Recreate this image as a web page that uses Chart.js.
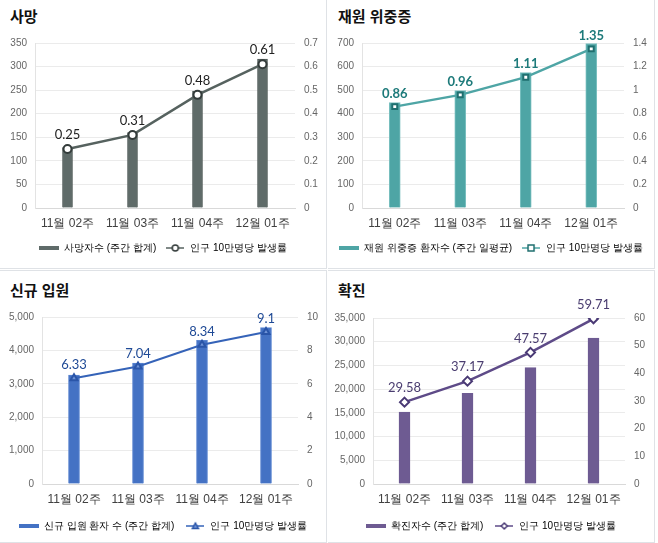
<!DOCTYPE html>
<html lang="ko">
<head>
<meta charset="UTF-8">
<title>코로나19 주간 현황</title>
<script src="https://cdn.jsdelivr.net/npm/chart.js"></script>
<style>
  body { margin: 0; background: #fff; width: 658px; height: 543px; position: relative; overflow: hidden;
         font-family: Lato, 'Noto Sans CJK KR', sans-serif; }
  .panel { position: absolute; background: #fff; border-right: 1px solid #dfe2e6; border-bottom: 1px solid #dfe2e6; box-sizing: border-box; }
  .panel h2 { position: absolute; left: 10px; margin: 0; font: bold 15px 'Noto Sans CJK KR', sans-serif; color: #111; }
  .panel canvas { position: absolute; left: 0; top: 0; }
</style>
</head>
<body>
<div class="panel" style="left:0;top:0;width:327px;height:269px"><h2 style="top:5px">사망</h2><canvas id="c1"></canvas></div>
<div class="panel" style="left:328px;top:0;width:327px;height:269px"><h2 style="top:5px">재원 위중증</h2><canvas id="c2"></canvas></div>
<div class="panel" style="left:0;top:270px;width:327px;height:273px;border-top:1px solid #dfe2e6"><h2 style="top:8px">신규 입원</h2><canvas id="c3"></canvas></div>
<div class="panel" style="left:328px;top:270px;width:327px;height:273px;border-top:1px solid #dfe2e6"><h2 style="top:8px">확진</h2><canvas id="c4"></canvas></div>

<script>
  // 데이터
  const weeks = ['11월 02주', '11월 03주', '11월 04주', '12월 01주'];

  const deathCounts = [128, 160, 248, 316];
  const deathRates = [0.25, 0.31, 0.48, 0.61];

  const severeCounts = [447, 498, 574, 698];
  const severeRates = [0.86, 0.96, 1.11, 1.35];

  const admitCounts = [3260, 3620, 4300, 4680];
  const admitRates = [6.33, 7.04, 8.34, 9.1];

  const caseCounts = [15180, 19120, 24530, 30780];
  const caseRates = [29.58, 37.17, 47.57, 59.71];

  // 범례 아이콘
  function barIcon(color) {
    const c = document.createElement('canvas');
    c.width = 20; c.height = 8;
    const g = c.getContext('2d');
    g.fillStyle = color;
    g.fillRect(0, 2, 20, 4);
    return c;
  }

  function marker(g, style, x, y, r, fill, stroke, lw) {
    g.beginPath();
    if (style === 'circle') g.arc(x, y, r, 0, Math.PI * 2);
    else if (style === 'rect') g.rect(x - r, y - r, r * 2, r * 2);
    else if (style === 'triangle') { g.moveTo(x, y - r); g.lineTo(x + r, y + r * 0.8); g.lineTo(x - r, y + r * 0.8); g.closePath(); }
    else { g.moveTo(x, y - r); g.lineTo(x + r, y); g.lineTo(x, y + r); g.lineTo(x - r, y); g.closePath(); }
    g.fillStyle = fill; g.fill();
    g.lineWidth = lw; g.strokeStyle = stroke; g.stroke();
  }

  function lineIcon(color, style, fill, stroke) {
    const c = document.createElement('canvas');
    c.width = 18; c.height = 12;
    const g = c.getContext('2d');
    g.strokeStyle = color; g.lineWidth = 1.5;
    g.beginPath(); g.moveTo(0, 6); g.lineTo(18, 6); g.stroke();
    marker(g, style, 9, 6, 3, fill, stroke, 1.5);
    return c;
  }

  const valueLabels = {
    id: 'valueLabels',
    afterDatasetsDraw(chart, args, opts) {
      const ctx = chart.ctx;
      const meta = chart.getDatasetMeta(1);
      ctx.save();
      ctx.font = opts.font;
      ctx.fillStyle = opts.color;
      ctx.textAlign = 'center';
      ctx.textBaseline = 'middle';
      meta.data.forEach((pt, i) => {
        ctx.fillText(String(chart.data.datasets[1].data[i]), pt.x, pt.y - opts.offset);
      });
      ctx.restore();
    }
  };

  function makeChart(id, o) {
    const canvas = document.getElementById(id);
    const W = 326, H = o.h;
    canvas.width = W; canvas.height = H;
    canvas.style.width = W + 'px'; canvas.style.height = H + 'px';

    const xAxisH = 26;
    const legendFont = 10;
    const legendPad = o.legendY - (o.area[3] + xAxisH) - legendFont / 2;
    const legendH = legendFont + legendPad + 10;
    const padBottom = H - o.area[3] - xAxisH - legendH;

    new Chart(canvas, {
      data: {
        labels: weeks,
        datasets: [{
          type: 'bar',
          label: o.barLabel,
          data: o.bars,
          backgroundColor: o.barColor,
          borderColor: o.barBorder,
          borderWidth: 1,
          barThickness: o.barWidth,
          yAxisID: 'y',
          order: 2
        }, {
          type: 'line',
          label: '인구 10만명당 발생률',
          data: o.rates,
          borderColor: o.lineColor,
          borderWidth: o.lineWidth,
          pointStyle: o.pointStyle,
          pointRadius: o.pointRadius,
          pointBackgroundColor: o.pointFill,
          pointBorderColor: o.pointStroke,
          pointBorderWidth: 2,
          tension: 0,
          yAxisID: 'y1',
          order: 1
        }]
      },
      options: {
        responsive: false,
        animation: false,
        layout: { padding: { top: o.area[1], bottom: padBottom, left: 0, right: 0 } },
        scales: {
          x: {
            grid: { display: false, drawTicks: false },
            border: { color: '#d9d9d9' },
            ticks: { color: '#404040', font: { size: 12 }, padding: 8, maxRotation: 0 },
            afterFit(s) { s.height = xAxisH; }
          },
          y: {
            position: 'left',
            min: 0, max: o.yMax,
            ticks: { stepSize: o.yStep, color: '#666', font: { size: 10 }, padding: 8,
                     callback: v => v.toLocaleString('en-US') },
            grid: { color: '#ebebeb', drawTicks: false },
            border: { color: '#e3e3e3' },
            afterFit(s) { s.width = o.area[0]; }
          },
          y1: {
            position: 'right',
            min: 0, max: o.y1Max,
            ticks: { stepSize: o.y1Step, color: '#666', font: { size: 10 }, padding: 9,
                     callback: v => String(Number(v.toFixed(2))) },
            grid: { display: false, drawTicks: false },
            border: { display: false },
            afterFit(s) { s.width = W - o.area[2]; }
          }
        },
        plugins: {
          tooltip: { enabled: false },
          legend: {
            position: 'bottom',
            labels: {
              usePointStyle: true,
              pointStyleWidth: 20,
              padding: legendPad,
              color: '#808080',
              font: { size: legendFont },
              generateLabels() {
                return [
                  { text: o.barLabel, pointStyle: barIcon(o.barColor), fillStyle: o.barColor, strokeStyle: o.barColor, lineWidth: 0, hidden: false, datasetIndex: 0 },
                  { text: '인구 10만명당 발생률', pointStyle: lineIcon(o.lineColor, o.pointStyle, o.pointFill, o.pointStroke), fillStyle: o.lineColor, strokeStyle: o.lineColor, lineWidth: 0, hidden: false, datasetIndex: 1 }
                ];
              }
            }
          },
          valueLabels: { font: o.labelFont, color: o.labelColor, offset: o.labelOffset }
        }
      },
      plugins: [valueLabels]
    });
  }

  makeChart('c1', {
    h: 268, area: [35, 43, 295, 208], legendY: 248,
    bars: deathCounts, rates: deathRates, barLabel: '사망자수 (주간 합계)',
    yMax: 350, yStep: 50, y1Max: 0.7, y1Step: 0.1,
    barColor: '#5f6b69', barBorder: '#4f5957', barWidth: 10,
    lineColor: '#56625f', lineWidth: 2.5, pointStyle: 'circle', pointRadius: 4,
    pointFill: '#ffffff', pointStroke: '#333b3a',
    labelFont: '13px Lato, sans-serif', labelColor: '#222', labelOffset: 14
  });

  makeChart('c2', {
    h: 268, area: [34, 43, 296, 208], legendY: 248,
    bars: severeCounts, rates: severeRates, barLabel: '재원 위중증 환자수 (주간 일평균)',
    yMax: 700, yStep: 100, y1Max: 1.4, y1Step: 0.2,
    barColor: '#4ea5a5', barBorder: '#7cc0c0', barWidth: 11,
    lineColor: '#4ea5a5', lineWidth: 2.5, pointStyle: 'rect', pointRadius: 3.5,
    pointFill: '#ffffff', pointStroke: '#1f6f6f',
    labelFont: 'bold 13px Lato, sans-serif', labelColor: '#1d7a7a', labelOffset: 13
  });

  makeChart('c3', {
    h: 272, area: [42, 46, 298, 213], legendY: 255,
    bars: admitCounts, rates: admitRates, barLabel: '신규 입원 환자 수 (주간 합계)',
    yMax: 5000, yStep: 1000, y1Max: 10, y1Step: 2,
    barColor: '#4472c4', barBorder: '#5a85d0', barWidth: 11,
    lineColor: '#3563b8', lineWidth: 2, pointStyle: 'triangle', pointRadius: 4,
    pointFill: '#6f93d6', pointStroke: '#2a55a8',
    labelFont: '13px Lato, sans-serif', labelColor: '#1f4a96', labelOffset: 13
  });

  makeChart('c4', {
    h: 272, area: [45, 47, 297, 213], legendY: 255,
    bars: caseCounts, rates: caseRates, barLabel: '확진자수 (주간 합계)',
    yMax: 35000, yStep: 5000, y1Max: 60, y1Step: 10,
    barColor: '#6e5b92', barBorder: '#6e5b92', barWidth: 11,
    lineColor: '#5e4b88', lineWidth: 2.5, pointStyle: 'rectRot', pointRadius: 4.5,
    pointFill: '#ffffff', pointStroke: '#4a3a75',
    labelFont: '13px Lato, sans-serif', labelColor: '#4a3d70', labelOffset: 14
  });
</script>
</body>
</html>
